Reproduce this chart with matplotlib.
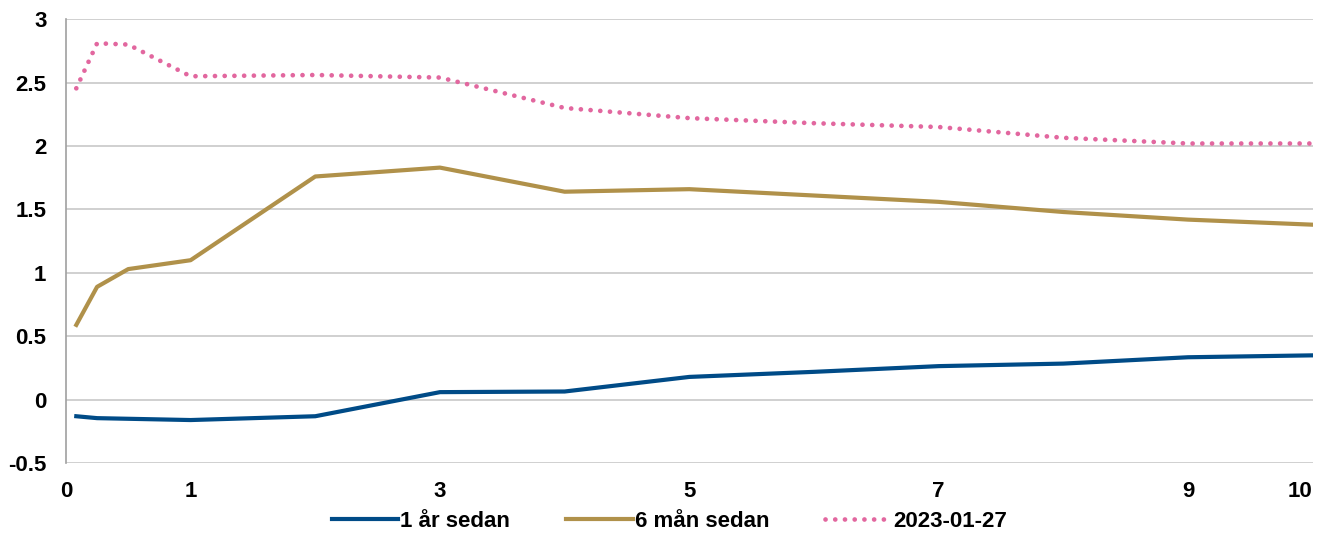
import matplotlib.pyplot as plt
import numpy as np

# maturities in years
maturity = [1/12, 0.25, 0.5, 1, 2, 3, 4, 5, 6, 7, 8, 9, 10]
ett_ar_sedan = [-0.13, -0.145, -0.15, -0.16, -0.13, 0.06, 0.065, 0.18, 0.22, 0.265, 0.285, 0.335, 0.35]
sex_man_sedan = [0.59, 0.89, 1.03, 1.10, 1.76, 1.83, 1.64, 1.66, 1.61, 1.56, 1.48, 1.42, 1.38]
idag = [2.455, 2.81, 2.80, 2.55, 2.56, 2.54, 2.30, 2.22, 2.18, 2.15, 2.065, 2.02, 2.02]
labels = ["1 år sedan", "6 mån sedan", "2023-01-27"]
xticks = [0, 1, 3, 5, 7, 9, 10]

plt.rcParams['font.family'] = ['Liberation Sans', 'DejaVu Sans']
plt.rcParams['font.weight'] = 'bold'

fig = plt.figure(figsize=(13.18, 5.33), dpi=100)
ax = fig.add_axes([0.050, 0.131, 0.946, 0.833])

ax.plot(maturity, ett_ar_sedan, color='#004B87', lw=3.0, label=labels[0], solid_joinstyle='round')
ax.plot(maturity, sex_man_sedan, color='#B0914A', lw=3.0, label=labels[1], solid_joinstyle='round')
ax.plot(maturity, idag, color='#E2679F', lw=3.4, linestyle=(0, (0.01, 2.05)),
        dash_capstyle='round', label=labels[2])

ax.set_xlim(0, 10)
ax.set_ylim(-0.5, 3)
ax.set_yticks(np.arange(-0.5, 3.01, 0.5))
ax.set_yticklabels(['-0.5', '0', '0.5', '1', '1.5', '2', '2.5', '3'])
ax.set_xticks(xticks)
ax.set_xticklabels([str(t) for t in xticks])
ax.tick_params(axis='y', length=0, pad=14, labelsize=16)
ax.tick_params(axis='x', length=0, pad=13, labelsize=16)
ax.get_xticklabels()[-1].set_ha('right')

ax.grid(axis='y', color='#C8C8C8', lw=1.2)
ax.set_axisbelow(True)
for s in ['top', 'right', 'bottom']:
    ax.spines[s].set_visible(False)
ax.spines['left'].set_color('#A0A0A0')
ax.spines['left'].set_linewidth(1.2)

leg = fig.legend(loc='center', bbox_to_anchor=(0.508, 0.022), ncol=3, frameon=False,
                 fontsize=16, handlelength=3.0, handletextpad=0.1, columnspacing=2.5)

fig.savefig('out.png', dpi=100)
